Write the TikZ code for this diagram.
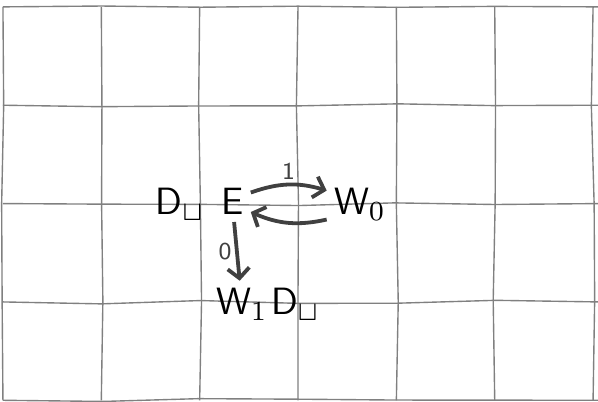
\documentclass[tikz,border=0pt]{standalone}
\usepackage{amssymb}
\definecolor{gridgray}{RGB}{128,128,128}
\definecolor{inkgray}{RGB}{64,64,64}
\usetikzlibrary{arrows.meta,decorations.pathmorphing}

\begin{document}
\begin{tikzpicture}[font=\fontsize{11}{13}\selectfont\sffamily,
  gridline/.style={gridgray,line width=0.4pt,decorate,decoration={random steps,segment length=1cm,amplitude=0.02cm}},
  sym/.style={anchor=base,inner sep=2pt},
  trans/.style={inkgray,line width=1.1pt,-{Straight Barb[length=1mm,width=2.2mm]}},
  lab/.style={font=\sffamily\scriptsize,inkgray,inner sep=1pt}]
  \useasboundingbox (-0.03,-0.01) rectangle (6.05,4.07);
  \pgfmathsetseed{3}
  \foreach \x in {0,...,6} \draw[gridline] (\x,0) -- (\x,4);
  \foreach \y in {0,...,4} \draw[gridline] (0,\y) -- (6.05,\y);
  \node[sym] (dl) at (1.80,1.89) {D$_\sqcup$};
  \node[sym] (e) at (2.33,1.89) {E};
  \node[sym] (w0) at (3.63,1.89) {W$_0$};
  \node[sym] (w1) at (2.43,0.87) {W$_1$};
  \node[sym] (dr) at (2.97,0.87) {D$_\sqcup$};
  \draw[trans] (e.25) to[bend left=18] node[lab,above] {1} (w0.158);
  \draw[trans] (w0.205) to[bend left=18] (e.-30);
  \draw[trans] (e) -- node[lab,left] {0} (w1);
\end{tikzpicture}
\end{document}
